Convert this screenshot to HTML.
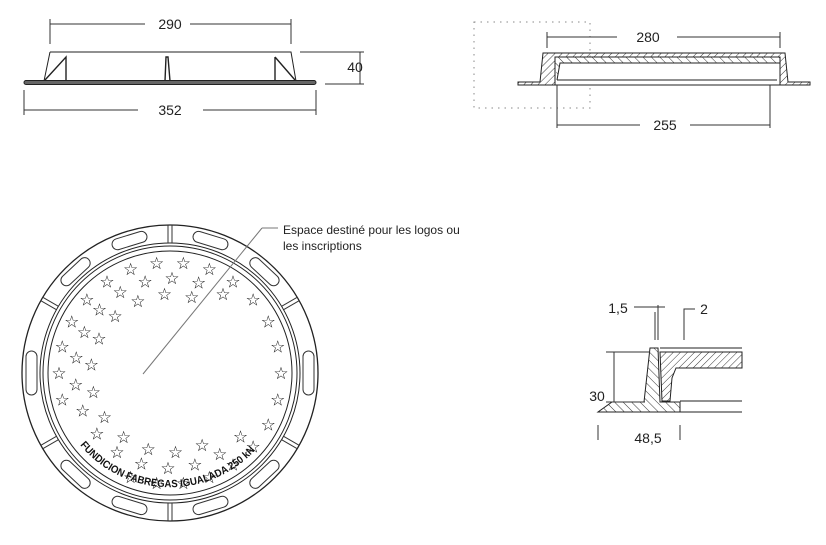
<!DOCTYPE html>
<html><head><meta charset="utf-8"><style>
html,body{margin:0;padding:0;background:#fff;}
svg{display:block;font-family:"Liberation Sans",Arial,sans-serif;}
</style></head><body>
<svg id="s" width="826" height="545" viewBox="0 0 826 545" xmlns="http://www.w3.org/2000/svg">
<defs>
<pattern id="h1" width="5" height="5" patternUnits="userSpaceOnUse" patternTransform="rotate(45)"><line x1="0" y1="0" x2="0" y2="5" stroke="#222" stroke-width="0.9"/></pattern>
<pattern id="h2" width="6" height="6" patternUnits="userSpaceOnUse" patternTransform="rotate(-45)"><line x1="0" y1="0" x2="0" y2="6" stroke="#222" stroke-width="0.9"/></pattern>
<path id="arc" d="M 80 445 A 117 117 0 0 0 260 445"/>
</defs>
<g stroke="#333" fill="none" stroke-width="1">
<line x1="50" y1="24" x2="145" y2="24"/><line x1="190" y1="24" x2="291" y2="24"/>
<line x1="50" y1="19" x2="50" y2="44"/><line x1="291" y1="19" x2="291" y2="44"/>
<path d="M50 52 L291 52 L296 81 M50 52 L44 81" stroke="#222"/>
<path d="M45 80 L66 57 L66 81 M275 57 L295 80 M275 57 L275 81 M166 57 L168 57 L170 81 L165 81 Z" stroke="#222" stroke-width="1.4"/>
<rect x="24" y="80.5" width="292" height="4" rx="2" fill="#666" stroke="#222"/>
<line x1="24" y1="110" x2="138" y2="110"/><line x1="203" y1="110" x2="316" y2="110"/>
<line x1="24" y1="90" x2="24" y2="115"/><line x1="316" y1="90" x2="316" y2="115"/>
<line x1="300" y1="52" x2="364" y2="52"/><line x1="325" y1="84" x2="364" y2="84"/>
<line x1="360" y1="52" x2="360" y2="84"/>
<rect x="474" y="22" width="116" height="86" stroke="#888" stroke-dasharray="1.5 5"/>
<line x1="547" y1="37" x2="617" y2="37"/><line x1="677" y1="37" x2="780" y2="37"/>
<line x1="547" y1="32" x2="547" y2="48"/><line x1="780" y1="32" x2="780" y2="48"/>
<path d="M518 82 L540 82 L543 53 L785 53 L788 82 L810 82 L810 85 L518 85 Z" fill="url(#h1)" stroke="#222"/>
<rect x="555" y="57" width="225" height="28" fill="#fff" stroke="#222"/>
<path d="M555 57 L780 57 L780 63 L560 63 L557 80" fill="url(#h2)" stroke="#222"/>
<line x1="557" y1="80" x2="777" y2="80" stroke="#222"/>
<line x1="557" y1="85" x2="557" y2="128"/><line x1="770" y1="85" x2="770" y2="128"/>
<line x1="557" y1="125" x2="640" y2="125"/><line x1="690" y1="125" x2="770" y2="125"/>
<path d="M598 412 L680 412 L680 402 L660 402 L658 348 L650 348 L644 402 L612 402 Z" fill="url(#h2)" stroke="#222"/>
<path d="M660 352 L742 352 L742 368 L676 368 L672 378 L670 401 L662 401 Z" fill="url(#h1)" stroke="#222"/>
<line x1="660" y1="348" x2="742" y2="348" stroke="#222"/><line x1="660" y1="352" x2="742" y2="352" stroke="#222" stroke-dasharray="5 2"/>
<line x1="680" y1="401" x2="742" y2="401" stroke="#222"/><line x1="680" y1="412" x2="742" y2="412" stroke="#222"/>
<line x1="606" y1="352" x2="650" y2="352"/><line x1="606" y1="402" x2="645" y2="402"/>
<line x1="614" y1="352" x2="614" y2="402"/>
<line x1="655" y1="312" x2="655" y2="340"/><line x1="658" y1="305" x2="658" y2="340"/>
<line x1="634" y1="307" x2="665" y2="307"/>
<path d="M695 309 L684 309 L684 340"/>
<line x1="598" y1="425" x2="598" y2="440"/><line x1="680" y1="425" x2="680" y2="440"/>
<circle cx="170" cy="373" r="148" stroke="#222" stroke-width="1.3"/>
<circle cx="170" cy="373" r="130" stroke="#222"/>
<circle cx="170" cy="373" r="127" stroke="#222"/>
<circle cx="170" cy="373" r="122" stroke="#222"/>
<line x1="143" y1="374" x2="262" y2="228" stroke="#777"/>
<line x1="262" y1="228" x2="278" y2="228" stroke="#777"/>
<g id="ring"></g>
</g>
<g id="stars" font-size="17" fill="#111" text-anchor="middle" font-family="DejaVu Sans, sans-serif"></g>
<text font-size="10.5" font-weight="bold" fill="#111"><textPath href="#arc" textLength="198" lengthAdjust="spacingAndGlyphs">FUNDICION FABREGAS IGUALADA 250 kN</textPath></text>
<g font-size="14" fill="#222" text-anchor="middle">
<text x="170" y="29">290</text><text x="170" y="115">352</text><text x="355" y="72">40</text>
<text x="648" y="42">280</text><text x="665" y="130">255</text>
<text x="618" y="313">1,5</text><text x="704" y="314">2</text>
<text x="597" y="401">30</text><text x="648" y="443">48,5</text>
</g>
<text x="283" y="234" font-size="12" fill="#222">Espace destiné pour les logos ou</text>
<text x="283" y="250" font-size="12" fill="#222">les inscriptions</text>
</svg>
<script>
var NS="http://www.w3.org/2000/svg",cx=170,cy=373,g=document.getElementById("ring"),st=document.getElementById("stars");
function el(n,a,p){var e=document.createElementNS(NS,n);for(var k in a)e.setAttribute(k,a[k]);p.appendChild(e);return e;}
[30,90,150,210,270,330].forEach(function(d){var r=d*Math.PI/180,c=Math.cos(r),s=-Math.sin(r);
el("line",{x1:cx+130*c-2*s,y1:cy+130*s+2*c,x2:cx+148*c-2*s,y2:cy+148*s+2*c},g);
el("line",{x1:cx+130*c+2*s,y1:cy+130*s-2*c,x2:cx+148*c+2*s,y2:cy+148*s-2*c},g);});
[0,47,73,107,133,180,227,253,287,313].forEach(function(d){var len=d%180==0?44:36;
var gg=el("g",{transform:"rotate("+(-d)+" "+cx+" "+cy+")"},g);
el("rect",{x:cx+133,y:cy-len/2,width:11,height:len,rx:5.5},gg);});
var rings=[[111,26],[95,22],[79,18]];
rings.forEach(function(R,i){for(var k=0;k<R[1];k++){var a=(k/R[1])*360+(i*7);
var ar=a*Math.PI/180,x=cx+R[0]*Math.cos(ar),y=cy-R[0]*Math.sin(ar);
if(i==2&&(a>300||a<70))continue; if(i==1&&(a>330||a<40))continue;
if(i==0&&a>205&&a<240)continue;
var t=el("text",{x:x,y:y+6},st);t.textContent="☆";}});
</script>
</body></html>
